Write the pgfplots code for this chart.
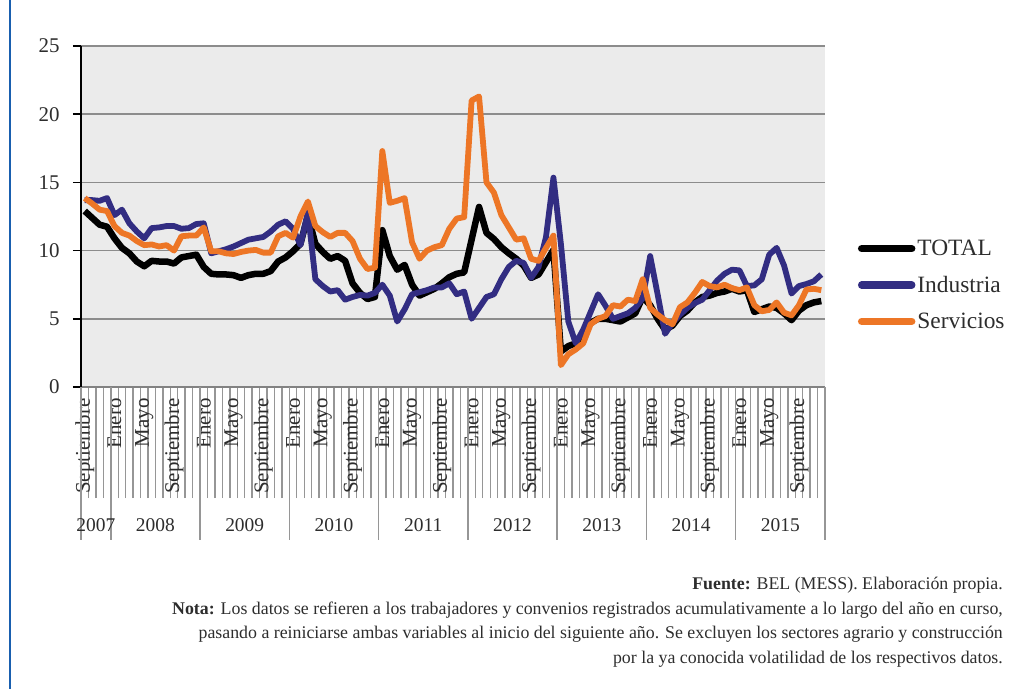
\documentclass[border=0pt]{standalone}
\usepackage{pgfplots}
\pgfplotsset{compat=1.18}
\usepackage{pgfplotstable}
\usepackage{fontspec}
\setmainfont{Liberation Serif}
\definecolor{plotbg}{RGB}{235,235,235}
\definecolor{gridgray}{RGB}{140,140,140}
\definecolor{tickgray}{RGB}{150,150,150}
\definecolor{axisgray}{RGB}{130,130,130}
\definecolor{indblue}{RGB}{50,45,130}
\definecolor{serorange}{RGB}{237,118,38}
\definecolor{frameblue}{RGB}{25,95,175}
\definecolor{txt}{RGB}{45,45,45}

\pgfplotstableread{
i tot ind ser
0 12.9 13.7 13.85
1 12.4 13.7 13.45
2 11.9 13.65 13.0
3 11.75 13.85 12.9
4 10.9 12.6 11.8
5 10.2 13.0 11.3
6 9.8 12.0 11.1
7 9.2 11.4 10.7
8 8.85 10.9 10.4
9 9.25 11.65 10.45
10 9.2 11.7 10.3
11 9.2 11.8 10.4
12 9.05 11.8 10.0
13 9.5 11.6 11.05
14 9.6 11.65 11.1
15 9.7 11.95 11.1
16 8.8 12.0 11.7
17 8.3 9.8 9.95
18 8.25 9.95 9.95
19 8.25 10.1 9.8
20 8.2 10.3 9.75
21 8.0 10.55 9.9
22 8.2 10.8 10.0
23 8.3 10.9 10.05
24 8.3 11.0 9.85
25 8.5 11.4 9.85
26 9.2 11.9 11.05
27 9.5 12.15 11.3
28 9.95 11.6 10.95
29 10.5 10.4 12.5
30 12.6 12.8 13.6
31 10.5 7.9 11.8
32 9.9 7.4 11.35
33 9.4 7.0 11.0
34 9.6 7.1 11.3
35 9.25 6.4 11.3
36 7.6 6.6 10.7
37 6.9 6.75 9.4
38 6.45 6.7 8.65
39 6.6 6.9 8.75
40 11.5 7.5 17.3
41 9.6 6.7 13.5
42 8.6 4.8 13.65
43 8.95 5.7 13.85
44 7.5 6.8 10.6
45 6.7 6.95 9.4
46 6.95 7.1 10.0
47 7.2 7.3 10.25
48 7.6 7.3 10.4
49 8.05 7.6 11.6
50 8.3 6.8 12.35
51 8.4 7.0 12.45
52 10.8 5.0 21.0
53 13.2 5.8 21.3
54 11.3 6.6 15.0
55 10.85 6.8 14.25
56 10.25 7.9 12.6
57 9.8 8.8 11.7
58 9.4 9.25 10.8
59 8.9 9.1 10.9
60 8.0 8.0 9.4
61 8.25 8.8 9.25
62 9.15 11.0 10.2
63 10.05 15.35 11.1
64 2.6 10.5 1.6
65 3.0 4.8 2.4
66 3.2 3.2 2.75
67 3.6 4.2 3.2
68 4.7 5.5 4.6
69 5.0 6.8 5.0
70 5.0 5.95 5.2
71 4.9 5.0 6.0
72 4.8 5.2 5.9
73 5.1 5.4 6.4
74 5.4 5.8 6.3
75 6.6 6.5 7.9
76 6.0 9.6 5.8
77 5.0 6.8 5.3
78 4.2 3.9 4.9
79 4.5 4.7 4.6
80 5.2 5.3 5.85
81 5.6 5.8 6.2
82 6.2 6.15 6.9
83 6.6 6.4 7.7
84 6.7 7.1 7.4
85 6.9 7.8 7.3
86 7.0 8.3 7.5
87 7.2 8.6 7.25
88 7.0 8.55 7.1
89 7.1 7.4 7.3
90 5.5 7.45 6.0
91 5.7 7.9 5.55
92 5.9 9.7 5.65
93 5.8 10.2 6.2
94 5.4 8.9 5.45
95 4.9 6.85 5.25
96 5.6 7.4 6.0
97 6.0 7.55 7.15
98 6.2 7.75 7.2
99 6.3 8.25 7.1
}\datatable

\begin{document}
\begin{tikzpicture}
\useasboundingbox (0bp,0bp) rectangle (1021bp,689bp);
\draw[frameblue, line width=2.5bp] (10bp,0bp) -- (10bp,689bp);
\begin{axis}[
  at={(81bp,302bp)}, anchor=south west,
  width=744bp, height=341bp, scale only axis,
  xmin=-0.5, xmax=99.5, ymin=0, ymax=25,
  axis lines*=left,
  x axis line style={draw=axisgray, line width=2bp},
  y axis line style={draw=black, line width=2.2bp},
  axis background/.style={fill=plotbg},
  ytick={0,5,10,15,20,25},
  ymajorgrids, grid style={gridgray, line width=1.5bp},
  tick align=outside,
  major tick length=8bp,
  minor tick length=111bp,
  xtick={0,4,...,96},
  xticklabels={Septiembre,Enero,Mayo,Septiembre,Enero,Mayo,Septiembre,Enero,Mayo,Septiembre,Enero,Mayo,Septiembre,Enero,Mayo,Septiembre,Enero,Mayo,Septiembre,Enero,Mayo,Septiembre,Enero,Mayo,Septiembre},
  major x tick style={draw=none},
  minor xtick={-0.5,0.5,...,99.5},
  minor x tick style={draw=tickgray, line width=1.4bp},
  major y tick style={draw=black, line width=1.5bp},
  x tick label style={rotate=90, anchor=east, font=\fontsize{21}{21}\selectfont, text=txt},
  y tick label style={font=\fontsize{21}{21}\selectfont, xshift=-10bp, text=txt},
  /pgf/number format/assume math mode=true,
  clip=false,
  legend style={at={(1.044,0.299)}, anchor=west, draw=none, fill=none, inner sep=0pt,
    font=\fontsize{23.5}{23.5}\selectfont, text=txt, row sep=15bp},
  legend image code/.code={\draw[#1, line width=7.5bp, line cap=round] (0bp,0bp) -- (50bp,0bp);},
  legend cell align=left,
]
\addplot[black, line width=6.5bp, line join=round, mark=none] table[x=i, y=tot] {\datatable};
\addlegendentry{TOTAL}
\addplot[indblue, line width=5.8bp, line join=round, mark=none] table[x=i, y=ind] {\datatable};
\addlegendentry{Industria}
\addplot[serorange, line width=5.8bp, line join=round, mark=none] table[x=i, y=ser] {\datatable};
\addlegendentry{Servicios}

\pgfplotsinvokeforeach{-0.5,3.5,15.5,27.5,39.5,51.5,63.5,75.5,87.5,99.5}{
  \draw[tickgray, line width=1.5bp] (axis cs:#1,0) -- ++(0bp,-153bp);
}
\node[yshift=-138bp, font=\fontsize{19.5}{19.5}\selectfont, text=txt] at (axis cs:1.5,0) {2007};
\node[yshift=-138bp, font=\fontsize{19.5}{19.5}\selectfont, text=txt] at (axis cs:9.5,0) {2008};
\node[yshift=-138bp, font=\fontsize{19.5}{19.5}\selectfont, text=txt] at (axis cs:21.5,0) {2009};
\node[yshift=-138bp, font=\fontsize{19.5}{19.5}\selectfont, text=txt] at (axis cs:33.5,0) {2010};
\node[yshift=-138bp, font=\fontsize{19.5}{19.5}\selectfont, text=txt] at (axis cs:45.5,0) {2011};
\node[yshift=-138bp, font=\fontsize{19.5}{19.5}\selectfont, text=txt] at (axis cs:57.5,0) {2012};
\node[yshift=-138bp, font=\fontsize{19.5}{19.5}\selectfont, text=txt] at (axis cs:69.5,0) {2013};
\node[yshift=-138bp, font=\fontsize{19.5}{19.5}\selectfont, text=txt] at (axis cs:81.5,0) {2014};
\node[yshift=-138bp, font=\fontsize{19.5}{19.5}\selectfont, text=txt] at (axis cs:93.5,0) {2015};
\end{axis}
\begin{scope}[every node/.style={anchor=east, inner sep=0pt, font=\fontsize{17.9}{20}\selectfont, text=txt}]
\node at (1003bp,104bp) {\textbf{Fuente:} BEL (MESS). Elaboración propia.};
\node at (1003bp,79bp) {\textbf{Nota:} Los datos se refieren a los trabajadores y convenios registrados acumulativamente a lo largo del año en curso,};
\node at (1003bp,55bp) {pasando a reiniciarse ambas variables al inicio del siguiente año. Se excluyen los sectores agrario y construcción};
\node at (1003bp,30bp) {por la ya conocida volatilidad de los respectivos datos.};
\end{scope}
\end{tikzpicture}
\end{document}
